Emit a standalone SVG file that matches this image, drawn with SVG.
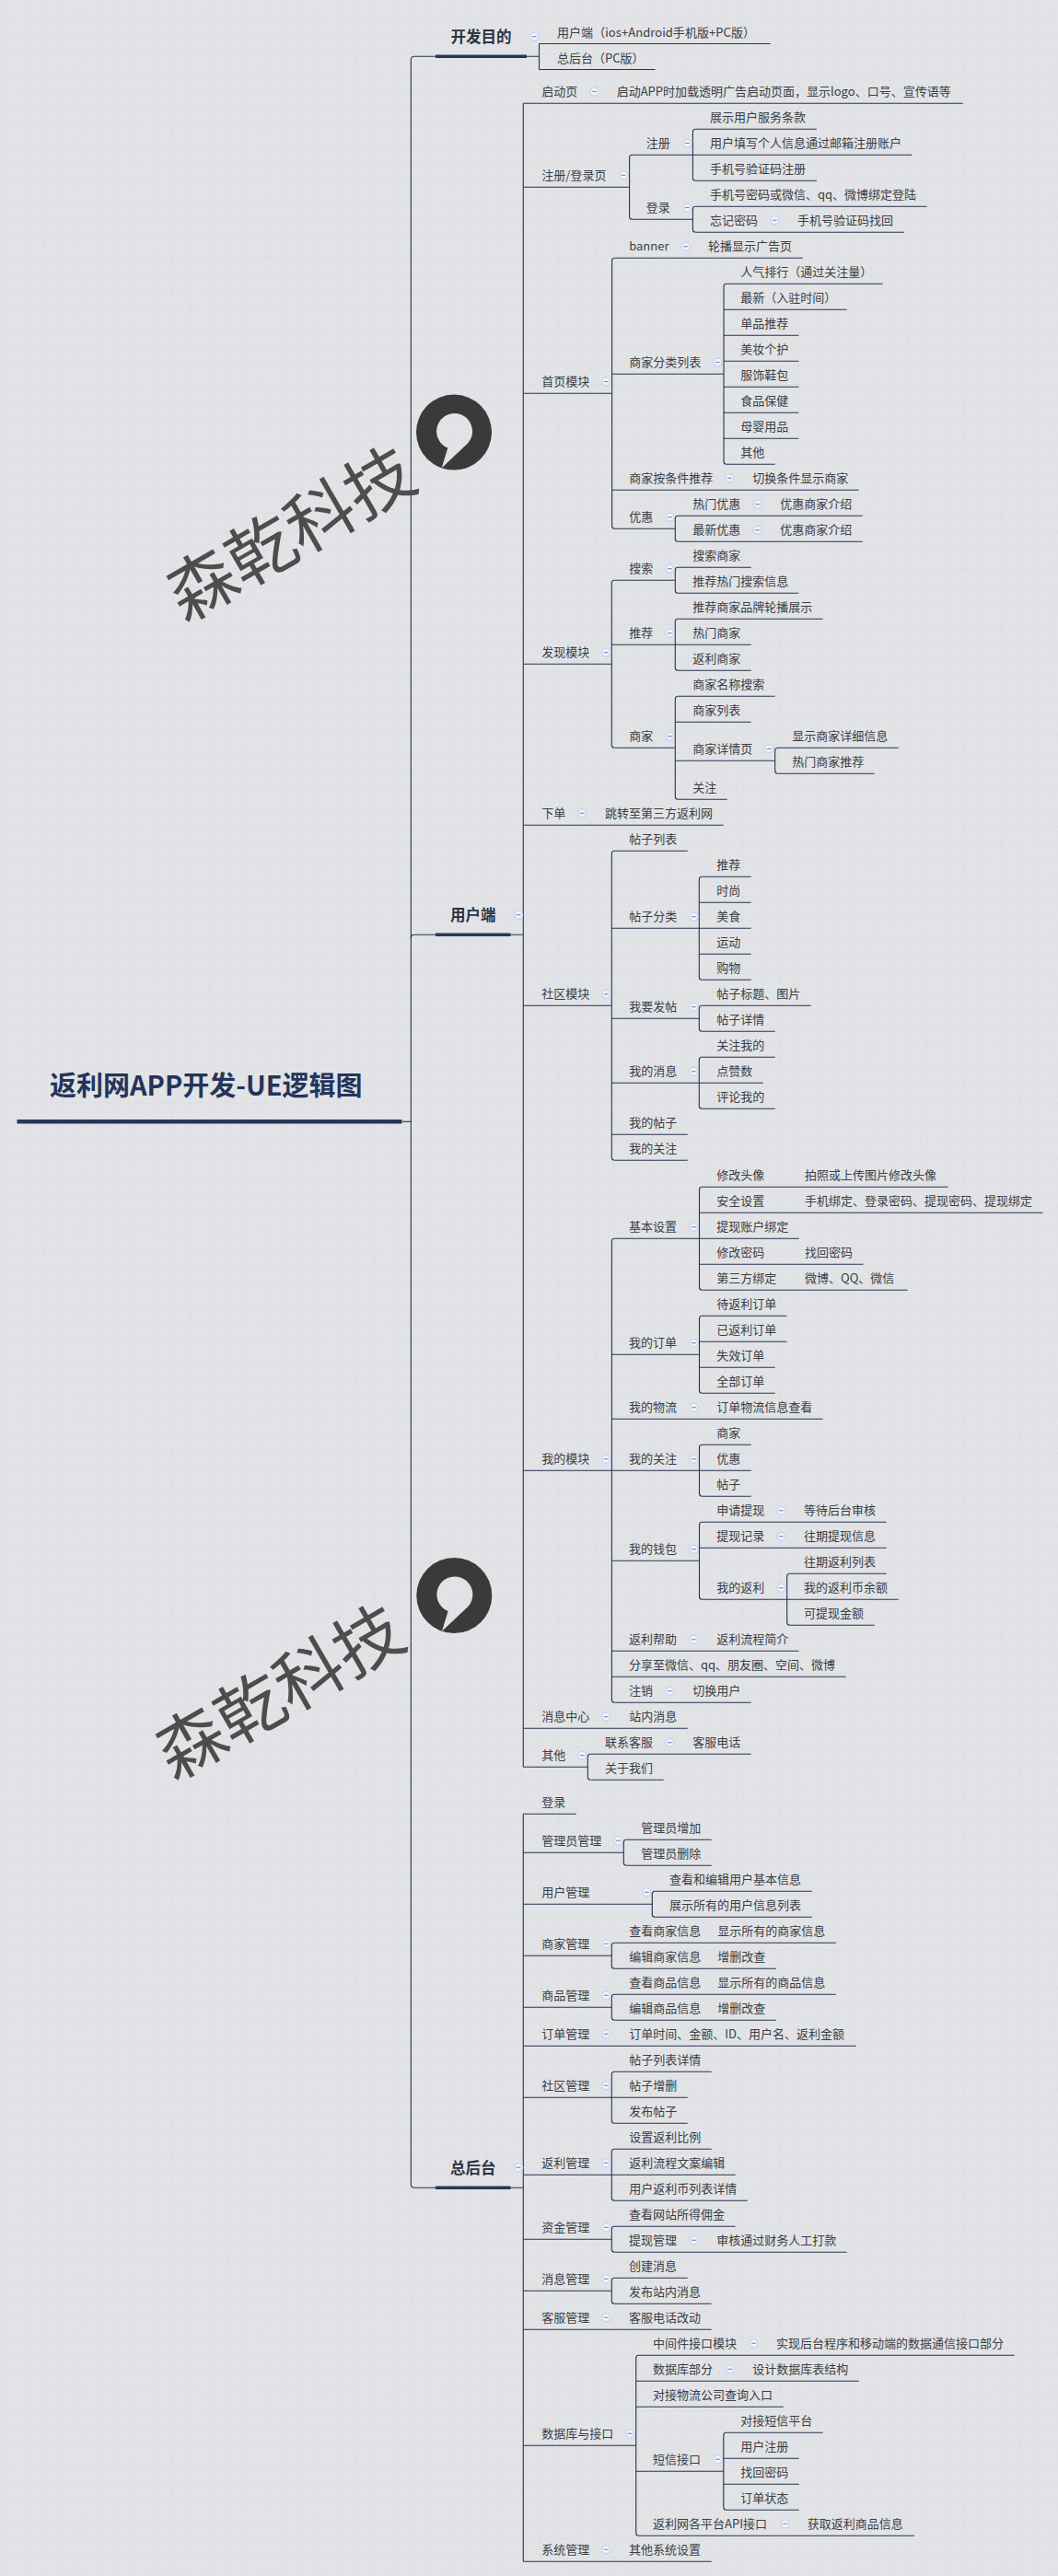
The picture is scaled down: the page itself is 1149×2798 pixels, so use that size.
<svg xmlns="http://www.w3.org/2000/svg" width="1149" height="2798" viewBox="0 0 1149 2798">
<style>
.u,.c{fill:none;stroke:#27334f;stroke-width:1.1}
.t{font-family:"Noto Sans CJK SC","Microsoft YaHei","Liberation Sans",sans-serif;font-size:13px;fill:#3a3e45}
.p{font-family:"Noto Sans CJK TC","Liberation Sans",sans-serif}
.h{font-family:"Noto Sans CJK SC","Liberation Sans",sans-serif;font-size:16.5px;font-weight:700;fill:#2d3442;text-anchor:middle}
.b{fill:none;stroke:#27375a;stroke-width:3.4}
.w{font-family:"Noto Sans CJK SC","Liberation Sans",sans-serif;font-size:74px;fill:#4d4d4d;text-anchor:middle}
</style>
<defs>
<pattern id="grid" width="100" height="100" patternUnits="userSpaceOnUse" x="27" y="78">
<path d="M0,0H100M0,0V100" fill="none" stroke="#000" stroke-opacity=".035"/>
<path d="M0,20H100M0,40H100M0,60H100M0,80H100M20,0V100M40,0V100M60,0V100M80,0V100" fill="none" stroke="#000" stroke-opacity=".012"/>
</pattern>
<filter id="noise" x="0" y="0" width="100%" height="100%"><feTurbulence type="fractalNoise" baseFrequency=".7" numOctaves="2" seed="4"/><feColorMatrix values="0 0 0 0 .5 0 0 0 0 .5 0 0 0 0 .5 .22 0 0 0 -.06"/></filter>
<g id="m"><circle r="4.5" fill="#f2f4fb" stroke="#c8d4f4" stroke-width="1.5"/><path d="M-2.4,0H2.4" stroke="#7f8fb8" stroke-width="1.2"/></g>
<path id="logo" fill="#3a3a3a" fill-rule="evenodd" d="M-41,0A41,41 0 1 1 41,0A41,41 0 1 1 -41,0ZM-6.7,17L-13.3,38.7L15,12A19.5,19.5 0 1 0 -6.7,17Z"/>
</defs>
<rect width="1149" height="2798" fill="#e4e5e8"/>
<rect width="1149" height="2798" filter="url(#noise)"/>
<rect width="1149" height="2798" fill="url(#grid)"/>

<g id="connectors">
<path class="c" d="M436.4,1218.3H446.3"/>
<path class="c" d="M472.8,61.3H450Q446.3,61.3 446.3,65V2372.6Q446.3,2376.3 450,2376.3H473"/>
<path class="c" d="M473,1015.3H450Q446.3,1015.3 446.3,1019"/>
<path class="c" d="M572,61.3H585.5M585.5,47.5V75.5"/>
<path class="c" d="M554.6,1015.3H568.3M568.3,112.3V1919.3"/>
<path class="c" d="M554.6,2376.3H568.3M568.3,1970.3V2782.3"/>
<path class="c" d="M686.6,168.3Q683.6,168.3 683.6,171.3V235.3Q683.6,238.3 686.6,238.3"/>
<path class="c" d="M755.4,140.3Q752.4,140.3 752.4,143.3V193.3Q752.4,196.3 755.4,196.3"/>
<path class="c" d="M755.4,224.3Q752.4,224.3 752.4,227.3V249.3Q752.4,252.3 755.4,252.3"/>
<path class="c" d="M667.6,280.3Q664.6,280.3 664.6,283.3V571.3Q664.6,574.3 667.6,574.3"/>
<path class="c" d="M789,308.3Q786,308.3 786,311.3V501.3Q786,504.3 789,504.3"/>
<path class="c" d="M736.3,560.3Q733.3,560.3 733.3,563.3V585.3Q733.3,588.3 736.3,588.3"/>
<path class="c" d="M667.3,630.3Q664.3,630.3 664.3,633.3V809.3Q664.3,812.3 667.3,812.3"/>
<path class="c" d="M736.3,616.3Q733.3,616.3 733.3,619.3V641.3Q733.3,644.3 736.3,644.3"/>
<path class="c" d="M736.3,672.3Q733.3,672.3 733.3,675.3V725.3Q733.3,728.3 736.3,728.3"/>
<path class="c" d="M736.3,756.3Q733.3,756.3 733.3,759.3V865.3Q733.3,868.3 736.3,868.3"/>
<path class="c" d="M844.7,812.3Q841.7,812.3 841.7,815.3V837.3Q841.7,840.3 844.7,840.3"/>
<path class="c" d="M667.3,924.3Q664.3,924.3 664.3,927.3V1257.3Q664.3,1260.3 667.3,1260.3"/>
<path class="c" d="M762.3,952.3Q759.3,952.3 759.3,955.3V1061.3Q759.3,1064.3 762.3,1064.3"/>
<path class="c" d="M762.3,1092.3Q759.3,1092.3 759.3,1095.3V1117.3Q759.3,1120.3 762.3,1120.3"/>
<path class="c" d="M762.3,1148.3Q759.3,1148.3 759.3,1151.3V1201.3Q759.3,1204.3 762.3,1204.3"/>
<path class="c" d="M667.4,1345.3Q664.4,1345.3 664.4,1348.3V1846.3Q664.4,1849.3 667.4,1849.3"/>
<path class="c" d="M762.5,1289.3Q759.5,1289.3 759.5,1292.3V1398.3Q759.5,1401.3 762.5,1401.3"/>
<path class="c" d="M762.5,1429.3Q759.5,1429.3 759.5,1432.3V1510.3Q759.5,1513.3 762.5,1513.3"/>
<path class="c" d="M762.5,1569.3Q759.5,1569.3 759.5,1572.3V1622.3Q759.5,1625.3 762.5,1625.3"/>
<path class="c" d="M762.5,1653.3Q759.5,1653.3 759.5,1656.3V1734.3Q759.5,1737.3 762.5,1737.3"/>
<path class="c" d="M857.7,1709.3Q854.7,1709.3 854.7,1712.3V1762.3Q854.7,1765.3 857.7,1765.3"/>
<path class="c" d="M641.3,1905.3Q638.3,1905.3 638.3,1908.3V1930.3Q638.3,1933.3 641.3,1933.3"/>
<path class="c" d="M680.3,1998.3Q677.3,1998.3 677.3,2001.3V2023.3Q677.3,2026.3 680.3,2026.3"/>
<path class="c" d="M711.3,2054.3Q708.3,2054.3 708.3,2057.3V2079.3Q708.3,2082.3 711.3,2082.3"/>
<path class="c" d="M667.3,2110.3Q664.3,2110.3 664.3,2113.3V2135.3Q664.3,2138.3 667.3,2138.3"/>
<path class="c" d="M667.3,2166.3Q664.3,2166.3 664.3,2169.3V2191.3Q664.3,2194.3 667.3,2194.3"/>
<path class="c" d="M667.3,2250.3Q664.3,2250.3 664.3,2253.3V2303.3Q664.3,2306.3 667.3,2306.3"/>
<path class="c" d="M667.3,2334.3Q664.3,2334.3 664.3,2337.3V2387.3Q664.3,2390.3 667.3,2390.3"/>
<path class="c" d="M667.3,2418.3Q664.3,2418.3 664.3,2421.3V2443.3Q664.3,2446.3 667.3,2446.3"/>
<path class="c" d="M667.3,2474.3Q664.3,2474.3 664.3,2477.3V2499.3Q664.3,2502.3 667.3,2502.3"/>
<path class="c" d="M693.7,2558.3Q690.7,2558.3 690.7,2561.3V2751.3Q690.7,2754.3 693.7,2754.3"/>
<path class="c" d="M788.8,2642.3Q785.8,2642.3 785.8,2645.3V2723.3Q785.8,2726.3 788.8,2726.3"/>
</g>

<g id="root"><path d="M18.5,1218.3H436.4" fill="none" stroke="#27375a" stroke-width="4.4"/><text x="54" y="1190" font-family="'Noto Sans CJK SC','Liberation Sans',sans-serif" font-size="29" font-weight="700" fill="#25345a">返利网APP开发-UE逻辑图</text></g>

<g id="t1"><path class="b" d="M472.8,61.3H572"/><text class="h" x="522.4" y="45.7">开发目的</text><use href="#m" x="580.4" y="39.7"/></g>
<g id="t2"><path class="b" d="M473,1015.3H554.6"/><text class="h" x="513.8" y="999.7">用户端</text><use href="#m" x="563" y="993.7"/></g>
<g id="t3"><path class="b" d="M473,2376.3H554.6"/><text class="h" x="513.8" y="2360.7">总后台</text><use href="#m" x="563" y="2354.3"/></g>

<g id="a1"><path class="u" d="M585.5,47.5H836.6"/><text class="t" x="605" y="39.5" textLength="215">用户端<tspan class="p">（</tspan>ios+Android手机版+PC版<tspan class="p">）</tspan></text></g>
<g id="a2"><path class="u" d="M585.5,75.5H711.6"/><text class="t" x="605" y="67.5">总后台<tspan class="p">（</tspan>PC版<tspan class="p">）</tspan></text></g>

<g id="b1"><path class="u" d="M568.3,112.3H1045.8"/><text class="t" x="588.3" y="104.3">启动页</text><use href="#m" x="645.6" y="99.5"/><text class="t" x="669.7" y="104.3">启动APP时加载透明广告启动页面，显示logo、口号、宣传语等</text></g>
<g id="b2"><path class="u" d="M568.3,203.3H683.6"/><text class="t" x="588.3" y="195.3">注册/登录页</text><use href="#m" x="677" y="190.3"/></g>
<g id="b2a"><path class="u" d="M686.6,168.3H752.4"/><text class="t" x="701.8" y="160.3">注册</text><use href="#m" x="746.4" y="155.5"/></g>
<g id="b2a1"><path class="u" d="M755.4,140.3H886.8"/><text class="t" x="771" y="132.3">展示用户服务条款</text></g>
<g id="b2a2"><path class="u" d="M752.4,168.3H990.4"/><text class="t" x="771" y="160.3">用户填写个人信息通过邮箱注册账户</text></g>
<g id="b2a3"><path class="u" d="M755.4,196.3H886.8"/><text class="t" x="771" y="188.3">手机号验证码注册</text></g>
<g id="b2b"><path class="u" d="M686.6,238.3H752.4"/><text class="t" x="701.8" y="230.3">登录</text><use href="#m" x="746.4" y="225.5"/></g>
<g id="b2b1"><path class="u" d="M755.4,224.3H1006.6"/><text class="t" x="771" y="216.3">手机号密码或微信、qq、微博绑定登陆</text></g>
<g id="b2b2"><path class="u" d="M755.4,252.3H981.7"/><text class="t" x="771" y="244.3">忘记密码</text><use href="#m" x="841.3" y="239.3"/><text class="t" x="865.9" y="244.3">手机号验证码找回</text></g>

<g id="b3"><path class="u" d="M568.3,427.3H664.6"/><text class="t" x="588.3" y="419.3">首页模块</text><use href="#m" x="658.3" y="414.5"/></g>
<g id="b3a"><path class="u" d="M667.6,280.3H871.8"/><text class="t" x="683.2" y="272.3">banner</text><use href="#m" x="744.5" y="267.7"/><text class="t" x="769" y="272.3">轮播显示广告页</text></g>
<g id="b3b"><path class="u" d="M664.6,406.3H786"/><text class="t" x="683.2" y="398.3">商家分类列表</text><use href="#m" x="779.3" y="393.5"/></g>
<g id="b3b1"><path class="u" d="M789,308.3H958.8"/><text class="t" x="804.2" y="300.3">人气排行<tspan class="p">（</tspan>通过关注量<tspan class="p">）</tspan></text></g>
<g id="b3b2"><path class="u" d="M786,336.3H919.6"/><text class="t" x="804.2" y="328.3">最新<tspan class="p">（</tspan>入驻时间<tspan class="p">）</tspan></text></g>
<g id="b3b3"><path class="u" d="M786,364.3H867.4"/><text class="t" x="804.2" y="356.3">单品推荐</text></g>
<g id="b3b4"><path class="u" d="M786,392.3H867.4"/><text class="t" x="804.2" y="384.3">美妆个护</text></g>
<g id="b3b5"><path class="u" d="M786,420.3H867.4"/><text class="t" x="804.2" y="412.3">服饰鞋包</text></g>
<g id="b3b6"><path class="u" d="M786,448.3H867.4"/><text class="t" x="804.2" y="440.3">食品保健</text></g>
<g id="b3b7"><path class="u" d="M786,476.3H867.4"/><text class="t" x="804.2" y="468.3">母婴用品</text></g>
<g id="b3b8"><path class="u" d="M789,504.3H841.7"/><text class="t" x="804.2" y="496.3">其他</text></g>
<g id="b3c"><path class="u" d="M664.6,532.3H932.7"/><text class="t" x="683.3" y="524.3">商家按条件推荐</text><use href="#m" x="792.3" y="519.3"/><text class="t" x="817.3" y="524.3">切换条件显示商家</text></g>
<g id="b3d"><path class="u" d="M667.6,574.3H733.3"/><text class="t" x="683.3" y="566.3">优惠</text><use href="#m" x="727.3" y="561.7"/></g>
<g id="b3d1"><path class="u" d="M736.3,560.3H936.7"/><text class="t" x="752.3" y="552.3">热门优惠</text><use href="#m" x="822.7" y="547.7"/><text class="t" x="847.3" y="552.3">优惠商家介绍</text></g>
<g id="b3d2"><path class="u" d="M736.3,588.3H936.7"/><text class="t" x="752.3" y="580.3">最新优惠</text><use href="#m" x="822.7" y="575.7"/><text class="t" x="847.3" y="580.3">优惠商家介绍</text></g>

<g id="b4"><path class="u" d="M568.3,721.3H664.3"/><text class="t" x="588.3" y="713.3">发现模块</text><use href="#m" x="658.3" y="708.7"/></g>
<g id="b4a"><path class="u" d="M667.3,630.3H733.3"/><text class="t" x="683.3" y="622.3">搜索</text><use href="#m" x="727.3" y="617.7"/></g>
<g id="b4a1"><path class="u" d="M736.3,616.3H815.7"/><text class="t" x="752.3" y="608.3">搜索商家</text></g>
<g id="b4a2"><path class="u" d="M736.3,644.3H867.3"/><text class="t" x="752.3" y="636.3">推荐热门搜索信息</text></g>
<g id="b4b"><path class="u" d="M664.3,700.3H733.3"/><text class="t" x="683.3" y="692.3">推荐</text><use href="#m" x="727.3" y="687.7"/></g>
<g id="b4b1"><path class="u" d="M736.3,672.3H893.7"/><text class="t" x="752.3" y="664.3">推荐商家品牌轮播展示</text></g>
<g id="b4b2"><path class="u" d="M733.3,700.3H815.7"/><text class="t" x="752.3" y="692.3">热门商家</text></g>
<g id="b4b3"><path class="u" d="M736.3,728.3H815.7"/><text class="t" x="752.3" y="720.3">返利商家</text></g>
<g id="b4c"><path class="u" d="M667.3,812.3H733.3"/><text class="t" x="683.3" y="804.3">商家</text><use href="#m" x="727.3" y="799.7"/></g>
<g id="b4c1"><path class="u" d="M736.3,756.3H841.7"/><text class="t" x="752.3" y="748.3">商家名称搜索</text></g>
<g id="b4c2"><path class="u" d="M733.3,784.3H815.7"/><text class="t" x="752.3" y="776.3">商家列表</text></g>
<g id="b4c3"><path class="u" d="M733.3,826.3H841.7"/><text class="t" x="752.3" y="818.3">商家详情页</text><use href="#m" x="835.3" y="813.3"/></g>
<g id="b4c3a"><path class="u" d="M844.7,812.3H975.7"/><text class="t" x="860.3" y="804.3">显示商家详细信息</text></g>
<g id="b4c3b"><path class="u" d="M844.7,840.3H949.7"/><text class="t" x="860.3" y="832.3">热门商家推荐</text></g>
<g id="b4c4"><path class="u" d="M736.3,868.3H789.7"/><text class="t" x="752.3" y="860.3">关注</text></g>
<g id="b5"><path class="u" d="M568.3,896.3H785.7"/><text class="t" x="588.3" y="888.3">下单</text><use href="#m" x="632.3" y="883.3"/><text class="t" x="657" y="888.3">跳转至第三方返利网</text></g>

<g id="b6"><path class="u" d="M568.3,1092.3H664.3"/><text class="t" x="588.3" y="1084.3">社区模块</text><use href="#m" x="658.3" y="1079.7"/></g>
<g id="b6a"><path class="u" d="M667.3,924.3H746.7"/><text class="t" x="683.3" y="916.3">帖子列表</text></g>
<g id="b6b"><path class="u" d="M664.3,1008.3H759.3"/><text class="t" x="683.3" y="1000.3">帖子分类</text><use href="#m" x="753.3" y="995.7"/></g>
<g id="b6b1"><path class="u" d="M762.3,952.3H815.7"/><text class="t" x="778.3" y="944.3">推荐</text></g>
<g id="b6b2"><path class="u" d="M759.3,980.3H815.7"/><text class="t" x="778.3" y="972.3">时尚</text></g>
<g id="b6b3"><path class="u" d="M759.3,1008.3H815.7"/><text class="t" x="778.3" y="1000.3">美食</text></g>
<g id="b6b4"><path class="u" d="M759.3,1036.3H815.7"/><text class="t" x="778.3" y="1028.3">运动</text></g>
<g id="b6b5"><path class="u" d="M762.3,1064.3H815.7"/><text class="t" x="778.3" y="1056.3">购物</text></g>
<g id="b6c"><path class="u" d="M664.3,1106.3H759.3"/><text class="t" x="683.3" y="1098.3">我要发帖</text><use href="#m" x="753.3" y="1093.7"/></g>
<g id="b6c1"><path class="u" d="M762.3,1092.3H880.7"/><text class="t" x="778.3" y="1084.3">帖子标题、图片</text></g>
<g id="b6c2"><path class="u" d="M762.3,1120.3H841.7"/><text class="t" x="778.3" y="1112.3">帖子详情</text></g>
<g id="b6d"><path class="u" d="M664.3,1176.3H759.3"/><text class="t" x="683.3" y="1168.3">我的消息</text><use href="#m" x="753.3" y="1163.7"/></g>
<g id="b6d1"><path class="u" d="M762.3,1148.3H841.7"/><text class="t" x="778.3" y="1140.3">关注我的</text></g>
<g id="b6d2"><path class="u" d="M759.3,1176.3H828.7"/><text class="t" x="778.3" y="1168.3">点赞数</text></g>
<g id="b6d3"><path class="u" d="M762.3,1204.3H841.7"/><text class="t" x="778.3" y="1196.3">评论我的</text></g>
<g id="b6e"><path class="u" d="M664.3,1232.3H746.7"/><text class="t" x="683.3" y="1224.3">我的帖子</text></g>
<g id="b6f"><path class="u" d="M667.3,1260.3H746.7"/><text class="t" x="683.3" y="1252.3">我的关注</text></g>

<g id="b7"><path class="u" d="M568.3,1597.3H664.4"/><text class="t" x="588.3" y="1589.3">我的模块</text><use href="#m" x="658.4" y="1584.7"/></g>
<g id="b7a"><path class="u" d="M667.4,1345.3H759.5"/><text class="t" x="683" y="1337.3">基本设置</text><use href="#m" x="753.5" y="1332.7"/></g>
<g id="b7a1"><path class="u" d="M762.5,1289.3H1029.6"/><text class="t" x="778.3" y="1281.3">修改头像</text><text class="t" x="874" y="1281.3">拍照或上传图片修改头像</text></g>
<g id="b7a2"><path class="u" d="M759.5,1317.3H1132.5"/><text class="t" x="778.3" y="1309.3">安全设置</text><text class="t" x="874" y="1309.3">手机绑定、登录密码、提现密码、提现绑定</text></g>
<g id="b7a3"><path class="u" d="M759.5,1345.3H867.7"/><text class="t" x="778.3" y="1337.3">提现账户绑定</text></g>
<g id="b7a4"><path class="u" d="M759.5,1373.3H937.5"/><text class="t" x="778.3" y="1365.3">修改密码</text><text class="t" x="874" y="1365.3">找回密码</text></g>
<g id="b7a5"><path class="u" d="M762.5,1401.3H985.6"/><text class="t" x="778.3" y="1393.3">第三方绑定</text><text class="t" x="874" y="1393.3">微博、QQ、微信</text></g>
<g id="b7b"><path class="u" d="M664.4,1471.3H759.5"/><text class="t" x="683" y="1463.3">我的订单</text><use href="#m" x="753.5" y="1458.7"/></g>
<g id="b7b1"><path class="u" d="M762.5,1429.3H854.5"/><text class="t" x="778.3" y="1421.3">待返利订单</text></g>
<g id="b7b2"><path class="u" d="M759.5,1457.3H854.5"/><text class="t" x="778.3" y="1449.3">已返利订单</text></g>
<g id="b7b3"><path class="u" d="M759.5,1485.3H841.7"/><text class="t" x="778.3" y="1477.3">失效订单</text></g>
<g id="b7b4"><path class="u" d="M762.5,1513.3H841.7"/><text class="t" x="778.3" y="1505.3">全部订单</text></g>
<g id="b7c"><path class="u" d="M664.4,1541.3H893.6"/><text class="t" x="683" y="1533.3">我的物流</text><use href="#m" x="753.5" y="1528.7"/><text class="t" x="778.3" y="1533.3">订单物流信息查看</text></g>
<g id="b7d"><path class="u" d="M664.4,1597.3H759.5"/><text class="t" x="683" y="1589.3">我的关注</text><use href="#m" x="753.5" y="1584.7"/></g>
<g id="b7d1"><path class="u" d="M762.5,1569.3H815.8"/><text class="t" x="778.3" y="1561.3">商家</text></g>
<g id="b7d2"><path class="u" d="M759.5,1597.3H815.8"/><text class="t" x="778.3" y="1589.3">优惠</text></g>
<g id="b7d3"><path class="u" d="M762.5,1625.3H815.8"/><text class="t" x="778.3" y="1617.3">帖子</text></g>
<g id="b7e"><path class="u" d="M664.4,1695.3H759.5"/><text class="t" x="683" y="1687.3">我的钱包</text><use href="#m" x="753.5" y="1682.7"/></g>
<g id="b7e1"><path class="u" d="M762.5,1653.3H962.7"/><text class="t" x="778.3" y="1645.3">申请提现</text><use href="#m" x="848.3" y="1640.7"/><text class="t" x="873" y="1645.3">等待后台审核</text></g>
<g id="b7e2"><path class="u" d="M759.5,1681.3H962.7"/><text class="t" x="778.3" y="1673.3">提现记录</text><use href="#m" x="848.3" y="1668.7"/><text class="t" x="873" y="1673.3">往期提现信息</text></g>
<g id="b7e3"><path class="u" d="M762.5,1737.3H854.7"/><text class="t" x="778.3" y="1729.3">我的返利</text><use href="#m" x="848.3" y="1724.7"/></g>
<g id="b7e3a"><path class="u" d="M857.7,1709.3H962.7"/><text class="t" x="873" y="1701.3">往期返利列表</text></g>
<g id="b7e3b"><path class="u" d="M854.7,1737.3H975.7"/><text class="t" x="873" y="1729.3">我的返利币余额</text></g>
<g id="b7e3c"><path class="u" d="M857.7,1765.3H949.7"/><text class="t" x="873" y="1757.3">可提现金额</text></g>
<g id="b7f"><path class="u" d="M664.4,1793.3H867.3"/><text class="t" x="683" y="1785.3">返利帮助</text><use href="#m" x="753.3" y="1780.7"/><text class="t" x="778.3" y="1785.3">返利流程简介</text></g>
<g id="b7g"><path class="u" d="M664.4,1821.3H918.7"/><text class="t" x="683" y="1813.3">分享至微信、qq、朋友圈、空间、微博</text></g>
<g id="b7h"><path class="u" d="M667.4,1849.3H815.7"/><text class="t" x="683" y="1841.3">注销</text><use href="#m" x="727.3" y="1836.7"/><text class="t" x="752.3" y="1841.3">切换用户</text></g>
<g id="b8"><path class="u" d="M568.3,1877.3H746.7"/><text class="t" x="588.3" y="1869.3">消息中心</text><use href="#m" x="658.3" y="1864.7"/><text class="t" x="683.3" y="1869.3">站内消息</text></g>
<g id="b9"><path class="u" d="M568.3,1919.3H638.3"/><text class="t" x="588.3" y="1911.3">其他</text><use href="#m" x="632.3" y="1906.7"/></g>
<g id="b9a"><path class="u" d="M641.3,1905.3H815.7"/><text class="t" x="657" y="1897.3">联系客服</text><use href="#m" x="727.3" y="1892.7"/><text class="t" x="752.3" y="1897.3">客服电话</text></g>
<g id="b9b"><path class="u" d="M641.3,1933.3H720.7"/><text class="t" x="657" y="1925.3">关于我们</text></g>

<g id="c1"><path class="u" d="M568.3,1970.3H625.7"/><text class="t" x="588.3" y="1962.3">登录</text></g>
<g id="c2"><path class="u" d="M568.3,2012.3H677.3"/><text class="t" x="588.3" y="2004.3">管理员管理</text><use href="#m" x="671.3" y="1999.3"/></g>
<g id="c2a"><path class="u" d="M680.3,1998.3H772.7"/><text class="t" x="696.3" y="1990.3">管理员增加</text></g>
<g id="c2b"><path class="u" d="M680.3,2026.3H772.7"/><text class="t" x="696.3" y="2018.3">管理员删除</text></g>
<g id="c3"><path class="u" d="M568.3,2068.3H708.3"/><text class="t" x="588.3" y="2060.3">用户管理</text><use href="#m" x="702.3" y="2055.3"/></g>
<g id="c3a"><path class="u" d="M711.3,2054.3H881.7"/><text class="t" x="727" y="2046.3">查看和编辑用户基本信息</text></g>
<g id="c3b"><path class="u" d="M711.3,2082.3H881.7"/><text class="t" x="727" y="2074.3">展示所有的用户信息列表</text></g>
<g id="c4"><path class="u" d="M568.3,2124.3H664.3"/><text class="t" x="588.3" y="2116.3">商家管理</text><use href="#m" x="658.3" y="2111.3"/></g>
<g id="c4a"><path class="u" d="M667.3,2110.3H907.7"/><text class="t" x="683.3" y="2102.3">查看商家信息</text><text class="t" x="779.3" y="2102.3">显示所有的商家信息</text></g>
<g id="c4b"><path class="u" d="M667.3,2138.3H842.7"/><text class="t" x="683.3" y="2130.3">编辑商家信息</text><text class="t" x="779.3" y="2130.3">增删改查</text></g>
<g id="c5"><path class="u" d="M568.3,2180.3H664.3"/><text class="t" x="588.3" y="2172.3">商品管理</text><use href="#m" x="658.3" y="2167.3"/></g>
<g id="c5a"><path class="u" d="M667.3,2166.3H907.7"/><text class="t" x="683.3" y="2158.3">查看商品信息</text><text class="t" x="779.3" y="2158.3">显示所有的商品信息</text></g>
<g id="c5b"><path class="u" d="M667.3,2194.3H842.7"/><text class="t" x="683.3" y="2186.3">编辑商品信息</text><text class="t" x="779.3" y="2186.3">增删改查</text></g>
<g id="c6"><path class="u" d="M568.3,2222.3H929.7"/><text class="t" x="588.3" y="2214.3">订单管理</text><use href="#m" x="658.3" y="2209.3"/><text class="t" x="683.3" y="2214.3">订单时间、金额、ID、用户名、返利金额</text></g>
<g id="c7"><path class="u" d="M568.3,2278.3H664.3"/><text class="t" x="588.3" y="2270.3">社区管理</text><use href="#m" x="658.3" y="2265.3"/></g>
<g id="c7a"><path class="u" d="M667.3,2250.3H772.7"/><text class="t" x="683.3" y="2242.3">帖子列表详情</text></g>
<g id="c7b"><path class="u" d="M664.3,2278.3H746.7"/><text class="t" x="683.3" y="2270.3">帖子增删</text></g>
<g id="c7c"><path class="u" d="M667.3,2306.3H746.7"/><text class="t" x="683.3" y="2298.3">发布帖子</text></g>
<g id="c8"><path class="u" d="M568.3,2362.3H664.3"/><text class="t" x="588.3" y="2354.3">返利管理</text><use href="#m" x="658.3" y="2349.3"/></g>
<g id="c8a"><path class="u" d="M667.3,2334.3H772.7"/><text class="t" x="683.3" y="2326.3">设置返利比例</text></g>
<g id="c8b"><path class="u" d="M664.3,2362.3H798.7"/><text class="t" x="683.3" y="2354.3">返利流程文案编辑</text></g>
<g id="c8c"><path class="u" d="M667.3,2390.3H811.7"/><text class="t" x="683.3" y="2382.3">用户返利币列表详情</text></g>
<g id="c9"><path class="u" d="M568.3,2432.3H664.3"/><text class="t" x="588.3" y="2424.3">资金管理</text><use href="#m" x="658.3" y="2419.3"/></g>
<g id="c9a"><path class="u" d="M667.3,2418.3H798.5"/><text class="t" x="683" y="2410.3">查看网站所得佣金</text></g>
<g id="c9b"><path class="u" d="M667.3,2446.3H919.5"/><text class="t" x="683" y="2438.3">提现管理</text><use href="#m" x="753.5" y="2433.3"/><text class="t" x="778.3" y="2438.3">审核通过财务人工打款</text></g>
<g id="c10"><path class="u" d="M568.3,2488.3H664.3"/><text class="t" x="588.3" y="2480.3">消息管理</text><use href="#m" x="658.3" y="2475.3"/></g>
<g id="c10a"><path class="u" d="M667.3,2474.3H746.7"/><text class="t" x="683" y="2466.3">创建消息</text></g>
<g id="c10b"><path class="u" d="M667.3,2502.3H772.6"/><text class="t" x="683" y="2494.3">发布站内消息</text></g>
<g id="c11"><path class="u" d="M568.3,2530.3H772.6"/><text class="t" x="588.3" y="2522.3">客服管理</text><use href="#m" x="658.3" y="2517.3"/><text class="t" x="683" y="2522.3">客服电话改动</text></g>
<g id="c12"><path class="u" d="M568.3,2656.3H690.7"/><text class="t" x="588.3" y="2648.3">数据库与接口</text><use href="#m" x="684.3" y="2643.3"/></g>
<g id="c12a"><path class="u" d="M693.7,2558.3H1101.7"/><text class="t" x="709" y="2550.3">中间件接口模块</text><use href="#m" x="818.5" y="2545.3"/><text class="t" x="842.9" y="2550.3">实现后台程序和移动端的数据通信接口部分</text></g>
<g id="c12b"><path class="u" d="M690.7,2586.3H932.7"/><text class="t" x="709" y="2578.3">数据库部分</text><use href="#m" x="792.9" y="2573.3"/><text class="t" x="817.3" y="2578.3">设计数据库表结构</text></g>
<g id="c12c"><path class="u" d="M690.7,2614.3H850.8"/><text class="t" x="709" y="2606.3">对接物流公司查询入口</text></g>
<g id="c12d"><path class="u" d="M690.7,2684.3H785.8"/><text class="t" x="709" y="2676.3">短信接口</text><use href="#m" x="779.4" y="2671.3"/></g>
<g id="c12d1"><path class="u" d="M788.8,2642.3H893.6"/><text class="t" x="804.2" y="2634.3">对接短信平台</text></g>
<g id="c12d2"><path class="u" d="M785.8,2670.3H867.7"/><text class="t" x="804.2" y="2662.3">用户注册</text></g>
<g id="c12d3"><path class="u" d="M785.8,2698.3H867.7"/><text class="t" x="804.2" y="2690.3">找回密码</text></g>
<g id="c12d4"><path class="u" d="M788.8,2726.3H867.7"/><text class="t" x="804.2" y="2718.3">订单状态</text></g>
<g id="c12e"><path class="u" d="M693.7,2754.3H992.8"/><text class="t" x="709" y="2746.3">返利网各平台API接口</text><use href="#m" x="852.6" y="2741.3"/><text class="t" x="876.7" y="2746.3">获取返利商品信息</text></g>
<g id="c13"><path class="u" d="M568.3,2782.3H772.6"/><text class="t" x="588.3" y="2774.3">系统管理</text><use href="#m" x="658.3" y="2769.3"/><text class="t" x="683" y="2774.3">其他系统设置</text></g>

<g id="watermark1"><use href="#logo" x="493" y="469.6"/><text class="w" transform="translate(316,580) rotate(-30)" y="26">森乾科技</text></g>
<g id="watermark2"><use href="#logo" x="493.3" y="1733"/><text class="w" transform="translate(304,1838) rotate(-30)" y="26">森乾科技</text></g>
</svg>
